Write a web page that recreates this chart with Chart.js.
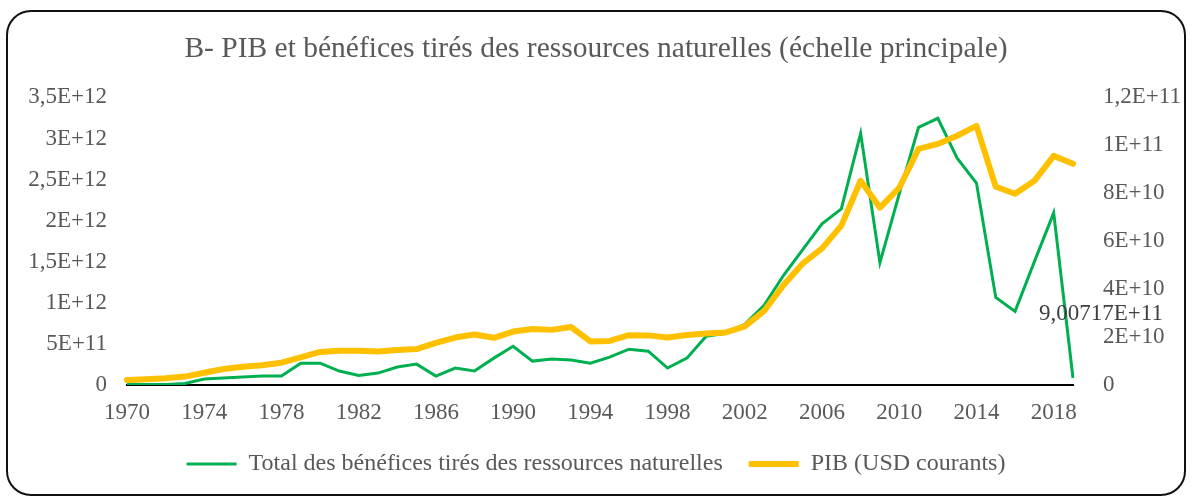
<!DOCTYPE html>
<html>
<head>
<meta charset="utf-8">
<script src="https://cdn.jsdelivr.net/npm/chart.js@4/dist/chart.umd.min.js"></script>
<style>
  html, body { margin: 0; padding: 0; background: #fff; }
  #wrap { width: 1192px; height: 499px; position: relative; }
</style>
</head>
<body>
<div id="wrap"><canvas id="chart"></canvas></div>
<script>
const years = [1970, 1971, 1972, 1973, 1974, 1975, 1976, 1977, 1978, 1979,
    1980, 1981, 1982, 1983, 1984, 1985, 1986, 1987, 1988, 1989,
    1990, 1991, 1992, 1993, 1994, 1995, 1996, 1997, 1998, 1999,
    2000, 2001, 2002, 2003, 2004, 2005, 2006, 2007, 2008, 2009,
    2010, 2011, 2012, 2013, 2014, 2015, 2016, 2017, 2018, 2019];

// Total des bénéfices tirés des ressources naturelles (axe principal)
const resourceRents = [1.2e10, 0.6e10, 0.6e10, 1.8e10, 7.3e10, 8.5e10, 9.7e10, 1.09e11, 1.09e11, 2.66e11,
    2.66e11, 1.70e11, 1.15e11, 1.45e11, 2.18e11, 2.54e11, 1.09e11, 2.06e11, 1.70e11, 3.27e11,
    4.72e11, 2.91e11, 3.15e11, 3.03e11, 2.66e11, 3.39e11, 4.36e11, 4.12e11, 2.06e11, 3.27e11,
    5.93e11, 6.30e11, 7.39e11, 9.69e11, 1.332e12, 1.647e12, 1.961e12, 2.143e12, 3.063e12, 1.489e12,
    2.325e12, 3.136e12, 3.245e12, 2.760e12, 2.458e12, 1.065e12, 0.896e12, 1.501e12, 2.095e12, 0.085e12];

// PIB (USD courants) (axe secondaire)
const gdpUsd = [2.1e9, 2.4e9, 2.8e9, 3.5e9, 5.1e9, 6.7e9, 7.6e9, 8.2e9, 9.3e9, 11.5e9,
    13.8e9, 14.3e9, 14.3e9, 14.0e9, 14.6e9, 15.0e9, 17.6e9, 19.8e9, 21.1e9, 19.7e9,
    22.3e9, 23.4e9, 23.0e9, 24.2e9, 18.2e9, 18.4e9, 20.8e9, 20.7e9, 19.8e9, 20.9e9,
    21.5e9, 21.9e9, 24.5e9, 30.9e9, 41.6e9, 50.7e9, 57.0e9, 66.5e9, 85.2e9, 74.0e9,
    82.3e9, 98.5e9, 100.6e9, 104.0e9, 108.1e9, 82.7e9, 79.8e9, 85.2e9, 95.6e9, 92.3e9];

const leftMax = 3.5e12, leftStep = 5e11;
const rightMax = 1.2e11, rightStep = 2e10;
const pointLabelText = '9,00717E+11';
const pointLabelValue = 9.00717e11;

const serif = "'Liberation Serif', 'Times New Roman', serif";
const grey = '#595959';

// Excel-like scientific labels with a decimal comma: 3,5E+12
function sci(v) {
    if (v === 0) return '0';
    const e = Math.floor(Math.log10(v) + 1e-9);
    const m = Number((v / Math.pow(10, e)).toFixed(3));
    return String(m).replace('.', ',') + 'E+' + e;
}

const frame = {
    id: 'frame',
    beforeDraw(chart) {
        const ctx = chart.ctx;
        ctx.save();
        ctx.strokeStyle = '#111';
        ctx.lineWidth = 2;
        ctx.beginPath();
        ctx.roundRect(7, 11, 1178, 484, 24);
        ctx.stroke();
        ctx.restore();
    }
};

const lastLabel = {
    id: 'lastLabel',
    afterDatasetsDraw(chart) {
        const meta = chart.getDatasetMeta(0);
        const pt = meta.data[meta.data.length - 1];
        const ctx = chart.ctx;
        ctx.save();
        ctx.font = '23px ' + serif;
        ctx.fillStyle = '#404040';
        ctx.textAlign = 'center';
        ctx.textBaseline = 'middle';
        ctx.fillText(pointLabelText, pt.x + 28, chart.scales.y.getPixelForValue(pointLabelValue) + 3);
        ctx.restore();
    }
};

new Chart(document.getElementById('chart').getContext('2d'), {
    type: 'line',
    data: {
        labels: years,
        datasets: [{
            label: 'Total des bénéfices tirés des ressources naturelles',
            data: resourceRents,
            borderColor: '#00B050',
            backgroundColor: '#00B050',
            borderWidth: 3,
            pointRadius: 0,
            tension: 0,
            yAxisID: 'y',
            order: 1
        }, {
            label: 'PIB (USD courants)',
            data: gdpUsd,
            borderColor: '#FFC000',
            backgroundColor: '#FFC000',
            borderWidth: 6,
            borderJoinStyle: 'round',
            borderCapStyle: 'round',
            pointRadius: 0,
            tension: 0,
            yAxisID: 'y1',
            order: 0
        }]
    },
    options: {
        responsive: true,
        maintainAspectRatio: false,
        animation: false,
        layout: { padding: { top: 10, left: 0, right: 0, bottom: 13 } },
        plugins: {
            tooltip: { enabled: false },
            title: {
                display: true,
                text: 'B- PIB et bénéfices tirés des ressources naturelles (échelle principale)',
                color: grey,
                font: { family: serif, size: 29.5, weight: 'normal' },
                padding: { top: 22, bottom: 30 }
            },
            legend: {
                position: 'bottom',
                labels: {
                    color: grey,
                    font: { family: serif, size: 24 },
                    usePointStyle: true,
                    pointStyle: 'line',
                    pointStyleWidth: 50,
                    padding: 26,
                    sort: (a, b) => a.datasetIndex - b.datasetIndex
                }
            }
        },
        scales: {
            x: {
                grid: { display: false, drawTicks: false },
                border: { display: true, color: '#000', width: 2 },
                ticks: {
                    color: grey,
                    font: { family: serif, size: 23 },
                    padding: 14,
                    autoSkip: false,
                    maxRotation: 0,
                    callback: (v, i) => ((years[i] - 1970) % 4 === 0 ? String(years[i]) : '')
                },
                afterFit: (s) => { s.height = 41; }
            },
            y: {
                position: 'left',
                min: 0,
                max: leftMax,
                grid: { display: false, drawTicks: false },
                border: { display: false },
                ticks: {
                    stepSize: leftStep,
                    color: grey,
                    font: { family: serif, size: 23 },
                    padding: 20,
                    callback: (v) => sci(v)
                },
                afterFit: (s) => { s.width = 127; }
            },
            y1: {
                position: 'right',
                min: 0,
                max: rightMax,
                grid: { display: false, drawTicks: false },
                border: { display: false },
                ticks: {
                    stepSize: rightStep,
                    color: grey,
                    font: { family: serif, size: 23 },
                    padding: 30,
                    callback: (v) => sci(v)
                },
                afterFit: (s) => { s.width = 119; }
            }
        }
    },
    plugins: [frame, lastLabel]
});
</script>
</body>
</html>
